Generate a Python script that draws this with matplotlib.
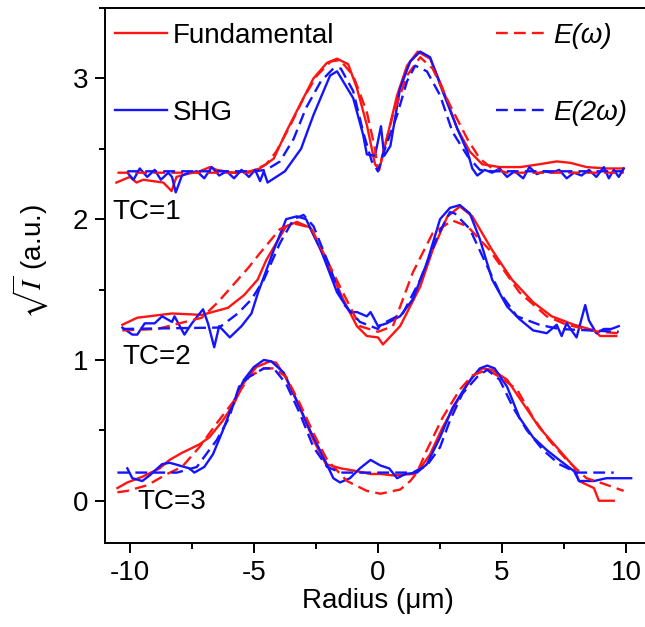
import matplotlib
matplotlib.use('Agg')
from matplotlib import pyplot as plt
from matplotlib.ticker import MultipleLocator

plt.rcParams['font.family'] = ['Liberation Sans', 'DejaVu Sans']
plt.rcParams['mathtext.fontset'] = 'stix'
plt.rcParams['axes.unicode_minus'] = False
plt.rcParams['font.size'] = 20

# TC=1 profiles
x1_fund = [-10.54, -10.0, -9.73, -9.46, -9.06, -8.65, -8.32, -8.12, -7.72, -7.18, -6.77, -6.5, -5.83, -5.16,
           -4.76, -4.2, -3.7, -3.15, -2.6, -2.06, -1.65, -1.2, -0.85, -0.45, -0.12, 0.05, 0.35, 0.77, 1.17,
           1.6, 2.1, 2.6, 3.2, 3.7, 4.2, 4.9, 5.75, 6.5, 7.2, 7.75, 8.4, 9.2, 9.9]
y1_fund = [2.26, 2.30, 2.26, 2.28, 2.27, 2.26, 2.20, 2.30, 2.32, 2.34, 2.37, 2.35, 2.33, 2.34,
           2.36, 2.43, 2.62, 2.81, 3.00, 3.11, 3.14, 3.10, 2.93, 2.67, 2.39, 2.35, 2.57, 2.88, 3.09,
           3.19, 3.14, 2.93, 2.64, 2.48, 2.39, 2.37, 2.37, 2.39, 2.41, 2.40, 2.37, 2.36, 2.36]
x1_shg = [-10.1, -9.85, -9.6, -9.3, -9.0, -8.75, -8.45, -8.3, -8.15, -7.9, -7.6, -7.3, -7.0, -6.7, -6.4,
          -6.1, -5.8, -5.5, -5.2, -4.95, -4.75, -4.6, -4.45, -3.75, -3.1, -2.6, -1.93, -1.65, -1.0, -0.6,
          -0.45, -0.12, 0.12, 0.25, 0.5, 0.89, 1.3, 1.7, 2.1, 2.6, 3.2, 3.6, 3.8, 4.0, 4.3, 4.6, 4.9,
          5.2, 5.5, 5.85, 6.1, 6.4, 6.7, 7.0, 7.3, 7.6, 7.9, 8.2, 8.5, 8.8, 9.1, 9.3, 9.5, 9.7, 9.9]
y1_shg = [2.33, 2.28, 2.36, 2.30, 2.35, 2.28, 2.33, 2.30, 2.19, 2.31, 2.33, 2.34, 2.29, 2.37, 2.31,
          2.34, 2.29, 2.35, 2.30, 2.35, 2.27, 2.34, 2.26, 2.34, 2.50, 2.74, 3.02, 3.05, 2.86, 2.60,
          2.46, 2.45, 2.66, 2.45, 2.52, 2.93, 3.12, 3.19, 3.15, 2.91, 2.64, 2.48, 2.36, 2.31, 2.35, 2.33, 2.36,
          2.30, 2.34, 2.29, 2.37, 2.32, 2.34, 2.33, 2.35, 2.29, 2.33, 2.31, 2.35, 2.30, 2.37, 2.29, 2.35, 2.30, 2.36]
x1_ew = [-10.5, -5.2, -4.5, -4.1, -3.55, -3.0, -2.46, -1.9, -1.53, -1.0, -0.45, -0.12, 0.0, 0.1,
         0.6, 1.17, 1.7, 2.2, 2.9, 3.6, 4.1, 4.6, 5.2, 9.9]
y1_ew = [2.33, 2.33, 2.39, 2.48, 2.66, 2.86, 3.02, 3.12, 3.13, 3.02, 2.76, 2.50, 2.34, 2.40,
         2.74, 3.02, 3.15, 3.07, 2.81, 2.57, 2.43, 2.36, 2.33, 2.33]
x1_e2w = [-10.1, -5.0, -4.5, -3.95, -3.4, -2.9, -2.3, -1.8, -1.5, -1.0, -0.6, -0.25, 0.0, 0.2,
          0.77, 1.17, 1.5, 1.97, 2.5, 3.0, 3.6, 4.1, 4.6, 9.9]
y1_e2w = [2.34, 2.34, 2.35, 2.41, 2.57, 2.79, 2.98, 3.07, 3.07, 2.91, 2.62, 2.41, 2.34, 2.46,
          2.74, 2.98, 3.09, 3.05, 2.88, 2.62, 2.45, 2.35, 2.34, 2.34]

# TC=2 profiles
x2_fund = [-10.3, -9.7, -8.3, -7.1, -6.05, -5.4, -4.85, -4.5, -3.7, -3.27, -2.74, -2.06, -1.4, -0.85, -0.45,
           0.0, 0.2, 0.89, 1.7, 2.2, 2.8, 3.3, 3.8, 4.6, 5.4, 6.25, 7.0, 7.9, 8.7, 8.95, 9.6]
y2_fund = [1.25, 1.30, 1.33, 1.32, 1.37, 1.46, 1.57, 1.71, 1.95, 1.98, 1.94, 1.69, 1.43, 1.24, 1.17,
           1.16, 1.11, 1.24, 1.52, 1.78, 2.02, 2.09, 2.02, 1.78, 1.57, 1.41, 1.31, 1.25, 1.21, 1.17, 1.17]
x2_shg = [-10.3, -9.9, -9.7, -9.4, -9.0, -8.7, -8.3, -8.2, -7.8, -7.5, -7.05, -6.85, -6.6, -6.4, -5.97,
          -5.5, -5.1, -4.83, -4.2, -3.7, -3.27, -2.9, -2.3, -1.65, -1.13, -0.85, -0.45, -0.3, 0.0, 0.35,
          0.89, 1.4, 1.97, 2.5, 2.9, 3.3, 3.7, 4.1, 4.6, 5.2, 5.7, 6.25, 6.8, 7.2, 7.4, 7.6, 8.0, 8.35,
          8.5, 8.8, 9.1, 9.4, 9.7]
y2_shg = [1.23, 1.18, 1.18, 1.26, 1.26, 1.31, 1.27, 1.31, 1.18, 1.26, 1.36, 1.26, 1.09, 1.24, 1.16,
          1.24, 1.33, 1.48, 1.78, 2.00, 2.02, 2.00, 1.78, 1.48, 1.34, 1.34, 1.31, 1.34, 1.24, 1.26,
          1.31, 1.43, 1.69, 2.00, 2.08, 2.10, 2.04, 1.86, 1.57, 1.38, 1.29, 1.21, 1.19, 1.25, 1.17, 1.26, 1.16, 1.39,
          1.28, 1.19, 1.22, 1.22, 1.24]
x2_ew = [-10.3, -8.9, -7.1, -6.45, -5.9, -5.2, -4.75, -3.95, -3.4, -2.7, -1.53, -0.73, 0.0, 0.6, 1.4,
         2.2, 3.0, 3.6, 4.5, 5.7, 6.8, 7.6, 8.9, 9.7]
y2_ew = [1.21, 1.22, 1.30, 1.41, 1.52, 1.66, 1.76, 1.93, 1.97, 1.94, 1.52, 1.24, 1.20, 1.24, 1.62,
         1.90, 1.99, 1.95, 1.78, 1.48, 1.31, 1.25, 1.20, 1.19]
x2_e2w = [-10.3, -6.4, -5.65, -5.1, -4.6, -3.95, -3.4, -3.0, -2.6, -2.05, -1.4, -0.73, 0.0, 0.1, 1.0,
          1.7, 2.4, 2.9, 3.1, 3.7, 4.2, 4.9, 5.6, 6.5, 7.3, 9.7]
y2_e2w = [1.22, 1.23, 1.33, 1.43, 1.57, 1.83, 2.00, 2.03, 1.95, 1.71, 1.40, 1.27, 1.22, 1.25, 1.33,
          1.57, 1.88, 2.05, 2.04, 1.93, 1.74, 1.48, 1.31, 1.25, 1.22, 1.20]

# TC=3 profiles
x3_fund = [-10.5, -10.1, -9.5, -8.8, -8.4, -7.9, -7.2, -6.8, -6.25, -5.8, -5.4, -4.9, -4.35, -4.1, -3.7,
           -3.15, -2.6, -2.1, -1.5, -0.85, -0.3, 0.1, 0.6, 1.4, 1.7, 2.1, 2.6, 3.3, 3.8, 4.2, 4.6, 5.2,
           5.85, 6.5, 7.2, 7.9, 8.1, 8.7, 8.9, 9.5]
y3_fund = [0.09, 0.13, 0.17, 0.23, 0.29, 0.34, 0.40, 0.45, 0.57, 0.69, 0.84, 0.95, 0.99, 0.98, 0.87,
           0.66, 0.43, 0.26, 0.23, 0.21, 0.19, 0.19, 0.18, 0.19, 0.23, 0.33, 0.52, 0.74, 0.88, 0.94, 0.93, 0.86,
           0.69, 0.52, 0.38, 0.24, 0.14, 0.09, 0.00, 0.00]
x3_shg = [-10.1, -9.9, -9.5, -9.2, -8.7, -8.4, -8.0, -7.6, -7.4, -7.0, -6.65, -6.25, -5.8, -5.4, -5.0,
          -4.6, -4.3, -3.8, -3.27, -2.74, -2.2, -1.8, -1.53, -1.13, -0.73, -0.3, 0.1, 0.45, 0.77, 1.1,
          1.57, 1.97, 2.5, 3.0, 3.6, 4.1, 4.4, 4.7, 5.2, 5.7, 6.25, 6.8, 7.3, 7.9, 8.1, 8.7, 9.2, 10.2]
y3_shg = [0.23, 0.16, 0.14, 0.18, 0.26, 0.27, 0.25, 0.23, 0.20, 0.24, 0.33, 0.50, 0.71, 0.86, 0.95,
          1.00, 0.99, 0.91, 0.71, 0.50, 0.31, 0.16, 0.13, 0.16, 0.23, 0.29, 0.25, 0.23, 0.16, 0.19,
          0.20, 0.26, 0.45, 0.66, 0.83, 0.94, 0.96, 0.94, 0.81, 0.59, 0.45, 0.36, 0.29, 0.21, 0.14, 0.14, 0.16, 0.16]
x3_ew = [-10.5, -10.1, -9.3, -8.5, -7.9, -7.2, -6.5, -5.8, -5.2, -4.6, -4.2, -3.7, -3.15, -2.6, -2.05,
         -1.25, -0.45, 0.1, 0.9, 1.3, 1.57, 1.97, 2.6, 3.3, 3.8, 4.4, 4.9, 5.6, 6.25, 6.9, 7.6, 8.4,
         9.1, 9.9]
y3_ew = [0.06, 0.07, 0.11, 0.19, 0.24, 0.38, 0.55, 0.71, 0.88, 0.94, 0.94, 0.88, 0.69, 0.48, 0.29,
         0.14, 0.07, 0.05, 0.08, 0.14, 0.20, 0.36, 0.59, 0.79, 0.89, 0.93, 0.88, 0.79, 0.59, 0.43, 0.29, 0.16,
         0.12, 0.07]
x3_e2w = [-10.5, -8.1, -7.3, -6.8, -6.5, -6.0, -5.6, -5.2, -4.6, -4.2, -3.7, -3.15, -2.6, -2.05, -1.5,
          1.4, 1.97, 2.5, 2.9, 3.4, 4.0, 4.4, 4.9, 5.45, 6.0, 6.65, 7.3, 8.0, 9.5]
y3_e2w = [0.20, 0.20, 0.24, 0.36, 0.43, 0.59, 0.81, 0.88, 0.94, 0.94, 0.83, 0.62, 0.38, 0.24, 0.20,
          0.20, 0.25, 0.38, 0.57, 0.76, 0.88, 0.93, 0.86, 0.66, 0.50, 0.36, 0.26, 0.20, 0.20]

tc_labels = ['TC=1', 'TC=2', 'TC=3']
tc_pos = [(-10.7, 2.05), (-10.3, 1.02), (-9.7, -0.01)]

red = '#ff1414'
blue = '#1414ff'
lw = 1.7
dash = (5, 2.6)

fig = plt.figure(figsize=(6.45, 6.27), dpi=100)
ax = fig.add_axes([0.1628, 0.1340, 0.8465, 0.8533])

groups = [
    (x1_fund, y1_fund, x1_shg, y1_shg, x1_ew, y1_ew, x1_e2w, y1_e2w),
    (x2_fund, y2_fund, x2_shg, y2_shg, x2_ew, y2_ew, x2_e2w, y2_e2w),
    (x3_fund, y3_fund, x3_shg, y3_shg, x3_ew, y3_ew, x3_e2w, y3_e2w),
]
for i, (xf, yf, xs, ys, xw, yw, x2w, y2w) in enumerate(groups):
    first = i == 0
    ax.plot(xf, yf, color=red, lw=lw, label='Fundamental' if first else None)
    ax.plot(xs, ys, color=blue, lw=lw, label='SHG' if first else None)
    ax.plot(xw, yw, color=red, lw=lw, ls=(0, dash), label='E(ω)' if first else None)
    ax.plot(x2w, y2w, color=blue, lw=lw, ls=(0, dash), label='E(2ω)' if first else None)

for lab, (tx, ty) in zip(tc_labels, tc_pos):
    ax.text(tx, ty, lab, ha='left', va='center', fontsize=20)

ax.set_xlim(-11, 11)
ax.set_ylim(-0.3, 3.5)
ax.set_xticks([-10, -5, 0, 5, 10])
ax.set_yticks([0, 1, 2, 3])
ax.xaxis.set_minor_locator(MultipleLocator(2.5))
ax.yaxis.set_minor_locator(MultipleLocator(0.5))
ax.tick_params(which='major', direction='out', length=7, width=1.4, labelsize=20, pad=5)
ax.tick_params(which='minor', direction='out', length=4.5, width=1.4)
ax.tick_params(top=False, right=False, which='both')
ax.spines['right'].set_visible(False)
for s in ['left', 'bottom', 'top']:
    ax.spines[s].set_linewidth(1.4)

ax.set_xlabel('Radius (μm)', fontsize=20, labelpad=2)
ax.set_ylabel(r'$\sqrt{I}$ (a.u.)', fontsize=20)
ax.yaxis.set_label_coords(-0.098, 0.525)

leg = ax.legend(loc='upper left', ncol=2, frameon=False, fontsize=20,
                bbox_to_anchor=(0.018, 0.972), borderaxespad=0, borderpad=0,
                handlelength=1.87, handletextpad=0.22, labelspacing=1.84,
                columnspacing=5.8)
for t in leg.get_texts()[2:]:
    t.set_fontstyle('italic')

fig.savefig('out.png', dpi=100)
